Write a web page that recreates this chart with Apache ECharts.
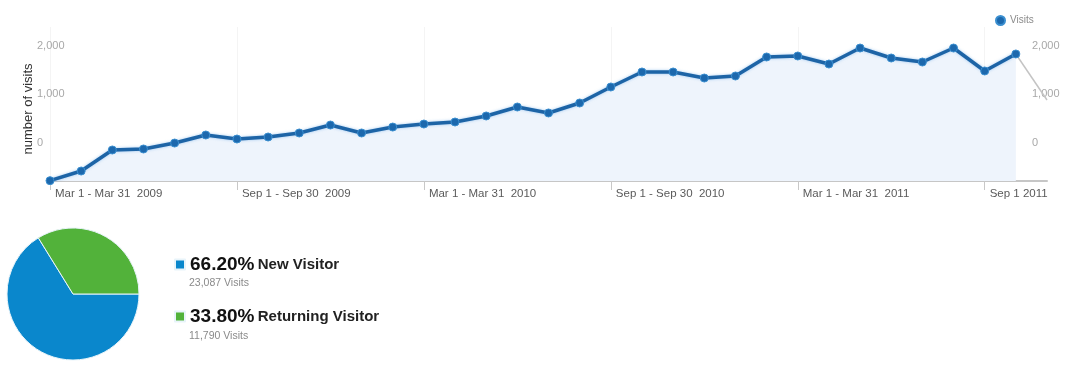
<!DOCTYPE html>
<html>
<head>
<meta charset="utf-8">
<script src="https://cdn.jsdelivr.net/npm/echarts@6/dist/echarts.min.js"></script>
<style>
html,body{margin:0;padding:0;background:#fff;}
#c{width:1077px;height:368px;}
</style>
</head>
<body>
<div id="c"></div>
<script>
const categories = [
  "Mar 1 - Mar 31  2009","Apr 1 - Apr 30  2009","May 1 - May 31  2009","Jun 1 - Jun 30  2009",
  "Jul 1 - Jul 31  2009","Aug 1 - Aug 31  2009","Sep 1 - Sep 30  2009","Oct 1 - Oct 31  2009",
  "Nov 1 - Nov 30  2009","Dec 1 - Dec 31  2009","Jan 1 - Jan 31  2010","Feb 1 - Feb 28  2010",
  "Mar 1 - Mar 31  2010","Apr 1 - Apr 30  2010","May 1 - May 31  2010","Jun 1 - Jun 30  2010",
  "Jul 1 - Jul 31  2010","Aug 1 - Aug 31  2010","Sep 1 - Sep 30  2010","Oct 1 - Oct 31  2010",
  "Nov 1 - Nov 30  2010","Dec 1 - Dec 31  2010","Jan 1 - Jan 31  2011","Feb 1 - Feb 28  2011",
  "Mar 1 - Mar 31  2011","Apr 1 - Apr 30  2011","May 1 - May 31  2011","Jun 1 - Jun 30  2011",
  "Jul 1 - Jul 31  2011","Aug 1 - Aug 31  2011","Sep 1 2011","Oct 1 2011","Nov 1 2011"
];
const visits = [5,149,463,478,567,687,627,657,717,836,717,806,851,881,971,1105,1016,1165,1404,1628,1628,1538,1568,1852,1867,1747,1986,1837,1777,1986,1643,1897];
const partialTail = [null,null,null,null,null,null,null,null,null,null,null,null,null,null,null,null,null,null,null,null,null,null,null,null,null,null,null,null,null,null,null,1897,1210];
const yTickLabels = {"0":"0","1000":"1,000","2000":"2,000"};
const visitorTypes = ["New Visitor","Returning Visitor"];
const visitorCounts = [23087, 11790];
const visitorCountLabels = ["23,087 Visits","11,790 Visits"];
const visitorPercents = ["66.20%","33.80%"];

const FONT = 'Arial, "Liberation Sans", sans-serif';
const chart = echarts.init(document.getElementById('c'), null, {renderer:'canvas'});

const labelFmt = v => (yTickLabels[String(v)] !== undefined ? yTickLabels[String(v)] : '');

chart.setOption({
  animation:false,
  backgroundColor:'#ffffff',
  textStyle:{fontFamily:FONT},
  legend:[
    {
      data:[{name:'Visits', icon:'circle'}],
      left:990, top:10, itemWidth:9, itemHeight:9, itemGap:5,
      textStyle:{color:'#8a8a8a', fontSize:10, fontFamily:FONT}
    },
    {
      data:visitorTypes.map(n=>({name:n, icon:'rect'})),
      orient:'vertical', left:169, top:250, itemWidth:10, itemHeight:10, itemGap:33,
      formatter: name => {
        const i = visitorTypes.indexOf(name);
        return '{p|' + visitorPercents[i] + '} {n|' + name + '}';
      },
      textStyle:{
        fontFamily:FONT,
        rich:{
          p:{fontSize:19, fontWeight:'bold', color:'#111', lineHeight:21, fontFamily:FONT},
          n:{fontSize:15, fontWeight:'bold', color:'#222', lineHeight:21, fontFamily:FONT}
        }
      }
    }
  ],
  graphic: visitorCountLabels.map((t,i)=>({
    type:'text', left:189, top:278 + i*53,
    style:{text:t, fill:'#8a8a8a', fontSize:10.5, fontFamily:FONT}
  })),
  grid:{left:50, right:30, top:27, bottom:187, containLabel:false},
  xAxis:{
    type:'category', data:categories, boundaryGap:false,
    axisLine:{show:true, onZero:false, lineStyle:{color:'#c6c6c6', width:2}},
    axisTick:{show:true, interval:5, length:9, lineStyle:{color:'#c8c8c8'}},
    axisLabel:{interval:5, align:'left', margin:7, padding:[0,0,0,5], color:'#5a5a5a', fontSize:11.5, fontFamily:FONT},
    splitLine:{show:true, interval:5, lineStyle:{color:'#f4f4f4', width:1}}
  },
  yAxis:[
    {
      type:'value', min:-800, max:2400, interval:200, position:'left',
      name:'number of visits', nameLocation:'middle', nameRotate:90, nameGap:15,
      nameMoveOverlap:false,
      nameTextStyle:{color:'#333', fontSize:13, fontFamily:FONT, padding:[0,10,0,0]},
      axisLine:{show:false}, axisTick:{show:false}, splitLine:{show:false},
      axisLabel:{formatter:labelFmt, align:'left', margin:13, color:'#a8a8a8', fontSize:11, fontFamily:FONT}
    },
    {
      type:'value', min:-800, max:2400, interval:200, position:'right',
      axisLine:{show:false}, axisTick:{show:false}, splitLine:{show:false},
      axisLabel:{formatter:labelFmt, align:'left', margin:-15, color:'#a8a8a8', fontSize:11, fontFamily:FONT}
    },
    {
      type:'value', min:0, max:2300, show:false
    }
  ],
  series:[
    {
      name:'Visits', type:'line', yAxisIndex:2, data:visits,
      symbol:'circle', symbolSize:8, showSymbol:true,
      itemStyle:{color:'#1c68ad', borderColor:'#3b8fd0', borderWidth:1},
      lineStyle:{color:'#1d64a6', width:3.5, shadowColor:'rgba(90,160,230,0.55)', shadowBlur:3},
      areaStyle:{color:'#eef4fc', opacity:1},
      z:3
    },
    {
      name:'tail', type:'line', yAxisIndex:2, data:partialTail,
      symbol:'none', lineStyle:{color:'#c4c4c4', width:1.5}, z:2
    },
    {
      name:'Visitor type', type:'pie', center:[73,294], radius:66,
      startAngle:0, clockwise:true,
      label:{show:false}, labelLine:{show:false},
      itemStyle:{borderColor:'#e8f4fa', borderWidth:1},
      data:visitorTypes.map((n,i)=>({name:n, value:visitorCounts[i],
        itemStyle:{color: i===0 ? '#0a87cc' : '#52b23a'}}))
    }
  ]
});
</script>
</body>
</html>
